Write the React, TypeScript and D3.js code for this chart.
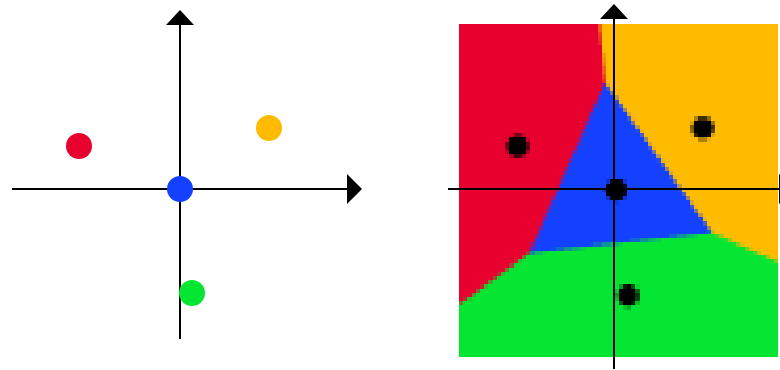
import React, { useMemo } from 'react';
import * as d3 from 'd3';

// four labelled samples, shared by both panels
const classes = ['red', 'yellow', 'blue', 'green'];
const xValues = [-1.01, 0.89, 0, 0.12];
const yValues = [0.43, 0.61, 0, -1.04];
const colors = ['#e8002e', '#ffbb00', '#1440ff', '#05e632'];

// extent of the decision map (data units)
const gridX = [-1.615, 1.66];
const gridY = [-1.645, 1.635];

const width = 780;
const height = 370;
const cell = 4.2;
const dotPx = 11;

const Arrows = ({ ox, oy, x0, x1, y0, y1 }) => (
  <g>
    <line x1={x0} x2={x1 - 15} y1={oy} y2={oy} stroke="#000" strokeWidth={2} />
    <line x1={ox} x2={ox} y1={y1 + 15} y2={y0} stroke="#000" strokeWidth={2} />
    <polygon points={`${x1 - 15},${oy - 15} ${x1},${oy} ${x1 - 15},${oy + 15}`} fill="#000" />
    <polygon points={`${ox - 14},${y1 + 15} ${ox},${y1} ${ox + 14},${y1 + 15}`} fill="#000" />
  </g>
);

const App = () => {
  const lx = d3.scaleLinear().domain([-1, 1]).range([80, 280]);
  const ly = d3.scaleLinear().domain([-1, 1]).range([289, 89]);
  const rx = d3.scaleLinear().domain([-1, 1]).range([518.9, 713.7]);
  const ry = d3.scaleLinear().domain([-1, 1]).range([291.5, 88.5]);

  const cells = useMemo(() => {
    // nearest sample in screen space (1-NN decision regions)
    const pts = classes.map((c, i) => [rx(xValues[i]), ry(yValues[i])]);
    const delaunay = d3.Delaunay.from(pts);
    const rgb = colors.map((c) => d3.rgb(c));
    const px0 = rx(gridX[0]), px1 = rx(gridX[1]);
    const py0 = ry(gridY[1]), py1 = ry(gridY[0]);
    const nx = Math.ceil((px1 - px0) / cell);
    const ny = Math.ceil((py1 - py0) / cell);
    const out = [];
    const s = 4;
    for (let j = 0; j < ny; j++) {
      for (let i = 0; i < nx; i++) {
        let r = 0, g = 0, b = 0;
        for (let a = 0; a < s; a++) {
          for (let k = 0; k < s; k++) {
            const sx = px0 + (i + (a + 0.5) / s) * cell;
            const sy = py0 + (j + (k + 0.5) / s) * cell;
            const n = delaunay.find(sx, sy);
            const d = Math.hypot(sx - pts[n][0], sy - pts[n][1]);
            if (d > dotPx) {
              r += rgb[n].r; g += rgb[n].g; b += rgb[n].b;
            }
          }
        }
        const w = Math.min(cell, px1 - (px0 + i * cell));
        const h = Math.min(cell, py1 - (py0 + j * cell));
        out.push({
          x: px0 + i * cell,
          y: py0 + j * cell,
          w, h,
          fill: d3.rgb(r / (s * s), g / (s * s), b / (s * s)).formatHex(),
        });
      }
    }
    return out;
  }, []);

  return (
    <svg width={width} height={height} style={{ position: 'absolute', left: 0, top: 0, background: '#fff' }}>
      <Arrows ox={lx(0)} oy={ly(0)} x0={12} x1={362} y0={339} y1={10} />
      {classes.map((c, i) => (
        <circle key={c} cx={lx(xValues[i])} cy={ly(yValues[i])} r={13} fill={colors[i]} />
      ))}
      <g shapeRendering="crispEdges">
        {cells.map((d, i) => (
          <rect key={i} x={d.x} y={d.y} width={d.w + 0.4} height={d.h + 0.4} fill={d.fill} />
        ))}
      </g>
      <Arrows ox={614} oy={189} x0={448} x1={794} y0={369} y1={4} />
    </svg>
  );
};

export default App;
